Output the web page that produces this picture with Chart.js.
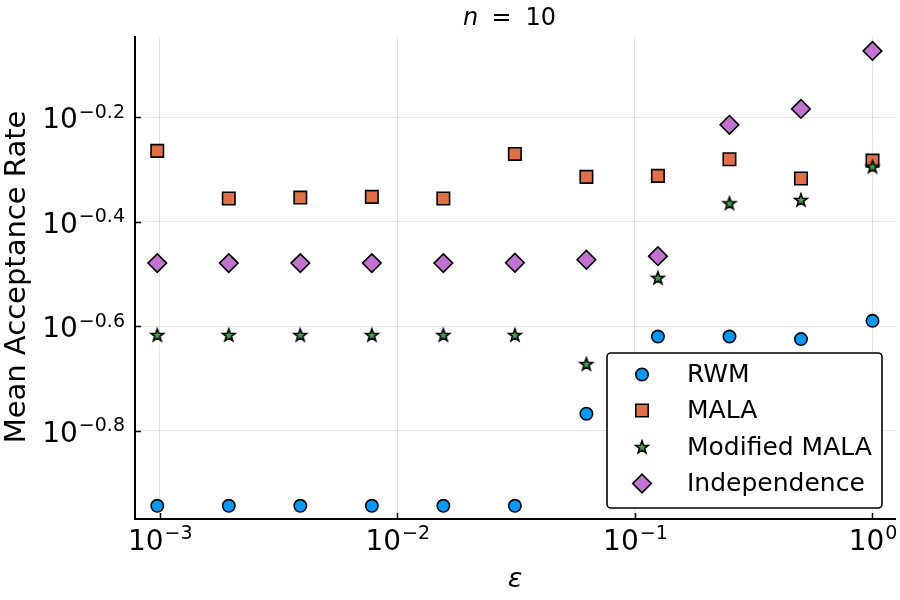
<!DOCTYPE html>
<html>
<head>
<meta charset="utf-8">
<script src="https://cdn.jsdelivr.net/npm/chart.js@4/dist/chart.umd.min.js"></script>
<style>
html,body{margin:0;padding:0;background:#fff;}
#wrap{width:900px;height:600px;position:relative;}
</style>
</head>
<body>
<div id="wrap"><canvas id="c" width="900" height="600"></canvas></div>
<script>
// ---- data ----
const epsilon = [0.0009765625, 0.001953125, 0.00390625, 0.0078125, 0.015625, 0.03125, 0.0625, 0.125, 0.25, 0.5, 1.0];
const rwm = [0.1139, 0.1139, 0.1139, 0.1139, 0.1139, 0.1139, 0.1709, 0.2401, 0.2401, 0.2374, 0.2573];
const mala = [0.5440, 0.4410, 0.4429, 0.4442, 0.4410, 0.5368, 0.4852, 0.4873, 0.5244, 0.4816, 0.5212];
const modifiedMala = [0.2418, 0.2418, 0.2418, 0.2418, 0.2418, 0.2418, 0.2127, 0.3110, 0.4320, 0.4383, 0.5076];
const independence = [0.3318, 0.3318, 0.3318, 0.3318, 0.3318, 0.3323, 0.3367, 0.3421, 0.6102, 0.6545, 0.8450];
const seriesNames = ["RWM", "MALA", "Modified MALA", "Independence"];
const xTickValues = [0.001, 0.01, 0.1, 1];
const xTickExponents = ["\u22123", "\u22122", "\u22121", "0"];
const yTickValues = [Math.pow(10, -0.8), Math.pow(10, -0.6), Math.pow(10, -0.4), Math.pow(10, -0.2)];
const yTickExponents = ["\u22120.8", "\u22120.6", "\u22120.4", "\u22120.2"];
const titleParts = ["n", "=", "10"];
const xTitle = "\u03b5";
const yTitle = "Mean Acceptance Rate";

const FONT = "'DejaVu Sans', sans-serif";
const colors = ["#009AFA", "#E36F47", "#3EA44E", "#C371D2"];

function makeStar(fill) {
  const R = 6.6, r = 2.7, s = 18;
  const cv = document.createElement('canvas');
  cv.width = s; cv.height = s;
  const g = cv.getContext('2d');
  g.beginPath();
  for (let i = 0; i < 10; i++) {
    const rad = (i % 2 === 0) ? R : r;
    const a = -Math.PI / 2 + i * Math.PI / 5;
    const px = s / 2 + rad * Math.cos(a), py = s / 2 + 0.5 + rad * Math.sin(a);
    if (i === 0) g.moveTo(px, py); else g.lineTo(px, py);
  }
  g.closePath();
  g.fillStyle = fill; g.fill();
  g.lineWidth = 1.6; g.strokeStyle = '#000'; g.lineJoin = 'miter'; g.stroke();
  return cv;
}
const starImg = makeStar(colors[2]);

const pts = (ys) => epsilon.map((x, i) => ({x: x, y: ys[i]}));

const styles = [
  {pointStyle: 'circle', pointRadius: 6.2},
  {pointStyle: 'rect', pointRadius: 8.8},
  {pointStyle: starImg, pointRadius: 7},
  {pointStyle: 'rectRot', pointRadius: 9.3}
];
const allSeries = [rwm, mala, modifiedMala, independence];

const datasets = allSeries.map((ys, k) => ({
  label: seriesNames[k],
  data: pts(ys),
  showLine: false,
  backgroundColor: colors[k],
  borderColor: '#000',
  borderWidth: 1.6,
  pointStyle: styles[k].pointStyle,
  pointRadius: styles[k].pointRadius,
  pointHoverRadius: styles[k].pointRadius,
  order: 3 - k
}));

const decor = {
  id: 'decor',
  afterDraw(chart) {
    const ctx = chart.ctx;
    const xs = chart.scales.x, ys = chart.scales.y;
    const area = chart.chartArea;
    ctx.save();
    ctx.fillStyle = '#000';
    ctx.strokeStyle = '#000';
    // inward tick marks
    ctx.lineWidth = 1.5;
    xTickValues.forEach(v => {
      const px = Math.round(xs.getPixelForValue(v)) + 0.5;
      ctx.beginPath(); ctx.moveTo(px, area.bottom); ctx.lineTo(px, area.bottom - 6); ctx.stroke();
    });
    yTickValues.forEach(v => {
      const py = Math.round(ys.getPixelForValue(v)) + 0.5;
      ctx.beginPath(); ctx.moveTo(area.left, py); ctx.lineTo(area.left + 6, py); ctx.stroke();
    });
    const MAIN = "28px " + FONT, EXP = "19px " + FONT;
    // x tick labels
    ctx.textBaseline = 'alphabetic';
    ctx.textAlign = 'left';
    xTickValues.forEach((v, i) => {
      const px = xs.getPixelForValue(v);
      ctx.font = MAIN;
      const w1 = ctx.measureText("10").width;
      ctx.font = EXP;
      const w2 = ctx.measureText(xTickExponents[i]).width;
      const x0 = px - (w1 + w2) / 2;
      ctx.font = MAIN;
      ctx.fillText("10", x0, area.bottom + 31);
      ctx.font = EXP;
      ctx.fillText(xTickExponents[i], x0 + w1 + 1, area.bottom + 20);
    });
    // y tick labels
    yTickValues.forEach((v, i) => {
      const py = ys.getPixelForValue(v);
      ctx.font = EXP;
      const w2 = ctx.measureText(yTickExponents[i]).width;
      ctx.font = MAIN;
      const w1 = ctx.measureText("10").width;
      const right = area.left - 10;
      ctx.fillText("10", right - w2 - w1 - 1, py + 11);
      ctx.font = EXP;
      ctx.fillText(yTickExponents[i], right - w2, py + 0.5);
    });
    // title
    const cx = (area.left + area.right) / 2;
    ctx.textBaseline = 'alphabetic';
    ctx.font = "italic 24px " + FONT;
    ctx.fillText(titleParts[0], cx - 52, 25);
    ctx.font = "24px " + FONT;
    ctx.textAlign = 'center';
    ctx.fillText(titleParts[1], cx - 13.5, 25);
    ctx.textAlign = 'left';
    ctx.fillText(titleParts[2], cx + 10.5, 25);
    // x title
    ctx.textAlign = 'center';
    ctx.font = "italic 27px " + FONT;
    ctx.fillText(xTitle, cx, 587);
    // y title
    ctx.save();
    ctx.translate(25, 277);
    ctx.rotate(-Math.PI / 2);
    ctx.font = "29px " + FONT;
    ctx.textAlign = 'center';
    ctx.fillText(yTitle, 0, 0);
    ctx.restore();
    // legend
    const lx = 607, ly = 353, lw = 275, lh = 155;
    ctx.fillStyle = '#fff';
    ctx.beginPath();
    ctx.roundRect(lx, ly, lw, lh, 4);
    ctx.fill();
    ctx.lineWidth = 1.6; ctx.strokeStyle = '#000';
    ctx.stroke();
    const rowY = [374.5, 410.5, 447, 483.5];
    chart.data.datasets.forEach((ds, k) => {
      const my = rowY[k];
      const o = {
        pointStyle: ds.pointStyle, radius: ds.pointRadius, rotation: 0, borderWidth: ds.borderWidth
      };
      ctx.fillStyle = ds.backgroundColor;
      ctx.strokeStyle = '#000';
      ctx.lineWidth = ds.borderWidth;
      Chart.helpers.drawPoint(ctx, o, 642, my);
      ctx.fillStyle = '#000';
      ctx.font = "25px " + FONT;
      ctx.textAlign = 'left';
      ctx.textBaseline = 'middle';
      ctx.fillText(ds.label, 687, my + 1);
    });
    ctx.restore();
  }
};

new Chart(document.getElementById('c'), {
  type: 'scatter',
  data: {datasets: datasets},
  options: {
    responsive: false,
    animation: false,
    devicePixelRatio: 1,
    layout: {autoPadding: false, padding: {top: 37, right: 5, left: 0, bottom: 0}},
    plugins: {legend: {display: false}, title: {display: false}, tooltip: {enabled: false}},
    scales: {
      x: {
        type: 'logarithmic',
        min: Math.pow(10, -3.104),
        max: Math.pow(10, 0.0947),
        afterBuildTicks: (s) => { s.ticks = xTickValues.map(v => ({value: v})); },
        afterFit: (s) => { s.height = 81; s.paddingRight = 0; s.paddingLeft = 0; },
        ticks: {display: false},
        grid: {color: 'rgba(0,0,0,0.1)', lineWidth: 1, drawTicks: false},
        border: {display: true, color: '#000', width: 2}
      },
      y: {
        type: 'logarithmic',
        min: Math.pow(10, -0.9687),
        max: Math.pow(10, -0.0465),
        afterBuildTicks: (s) => { s.ticks = yTickValues.map(v => ({value: v})); },
        afterFit: (s) => { s.width = 135; s.paddingTop = 0; s.paddingBottom = 0; },
        ticks: {display: false},
        grid: {color: 'rgba(0,0,0,0.1)', lineWidth: 1, drawTicks: false},
        border: {display: true, color: '#000', width: 2}
      }
    }
  },
  plugins: [decor]
});
</script>
</body>
</html>
